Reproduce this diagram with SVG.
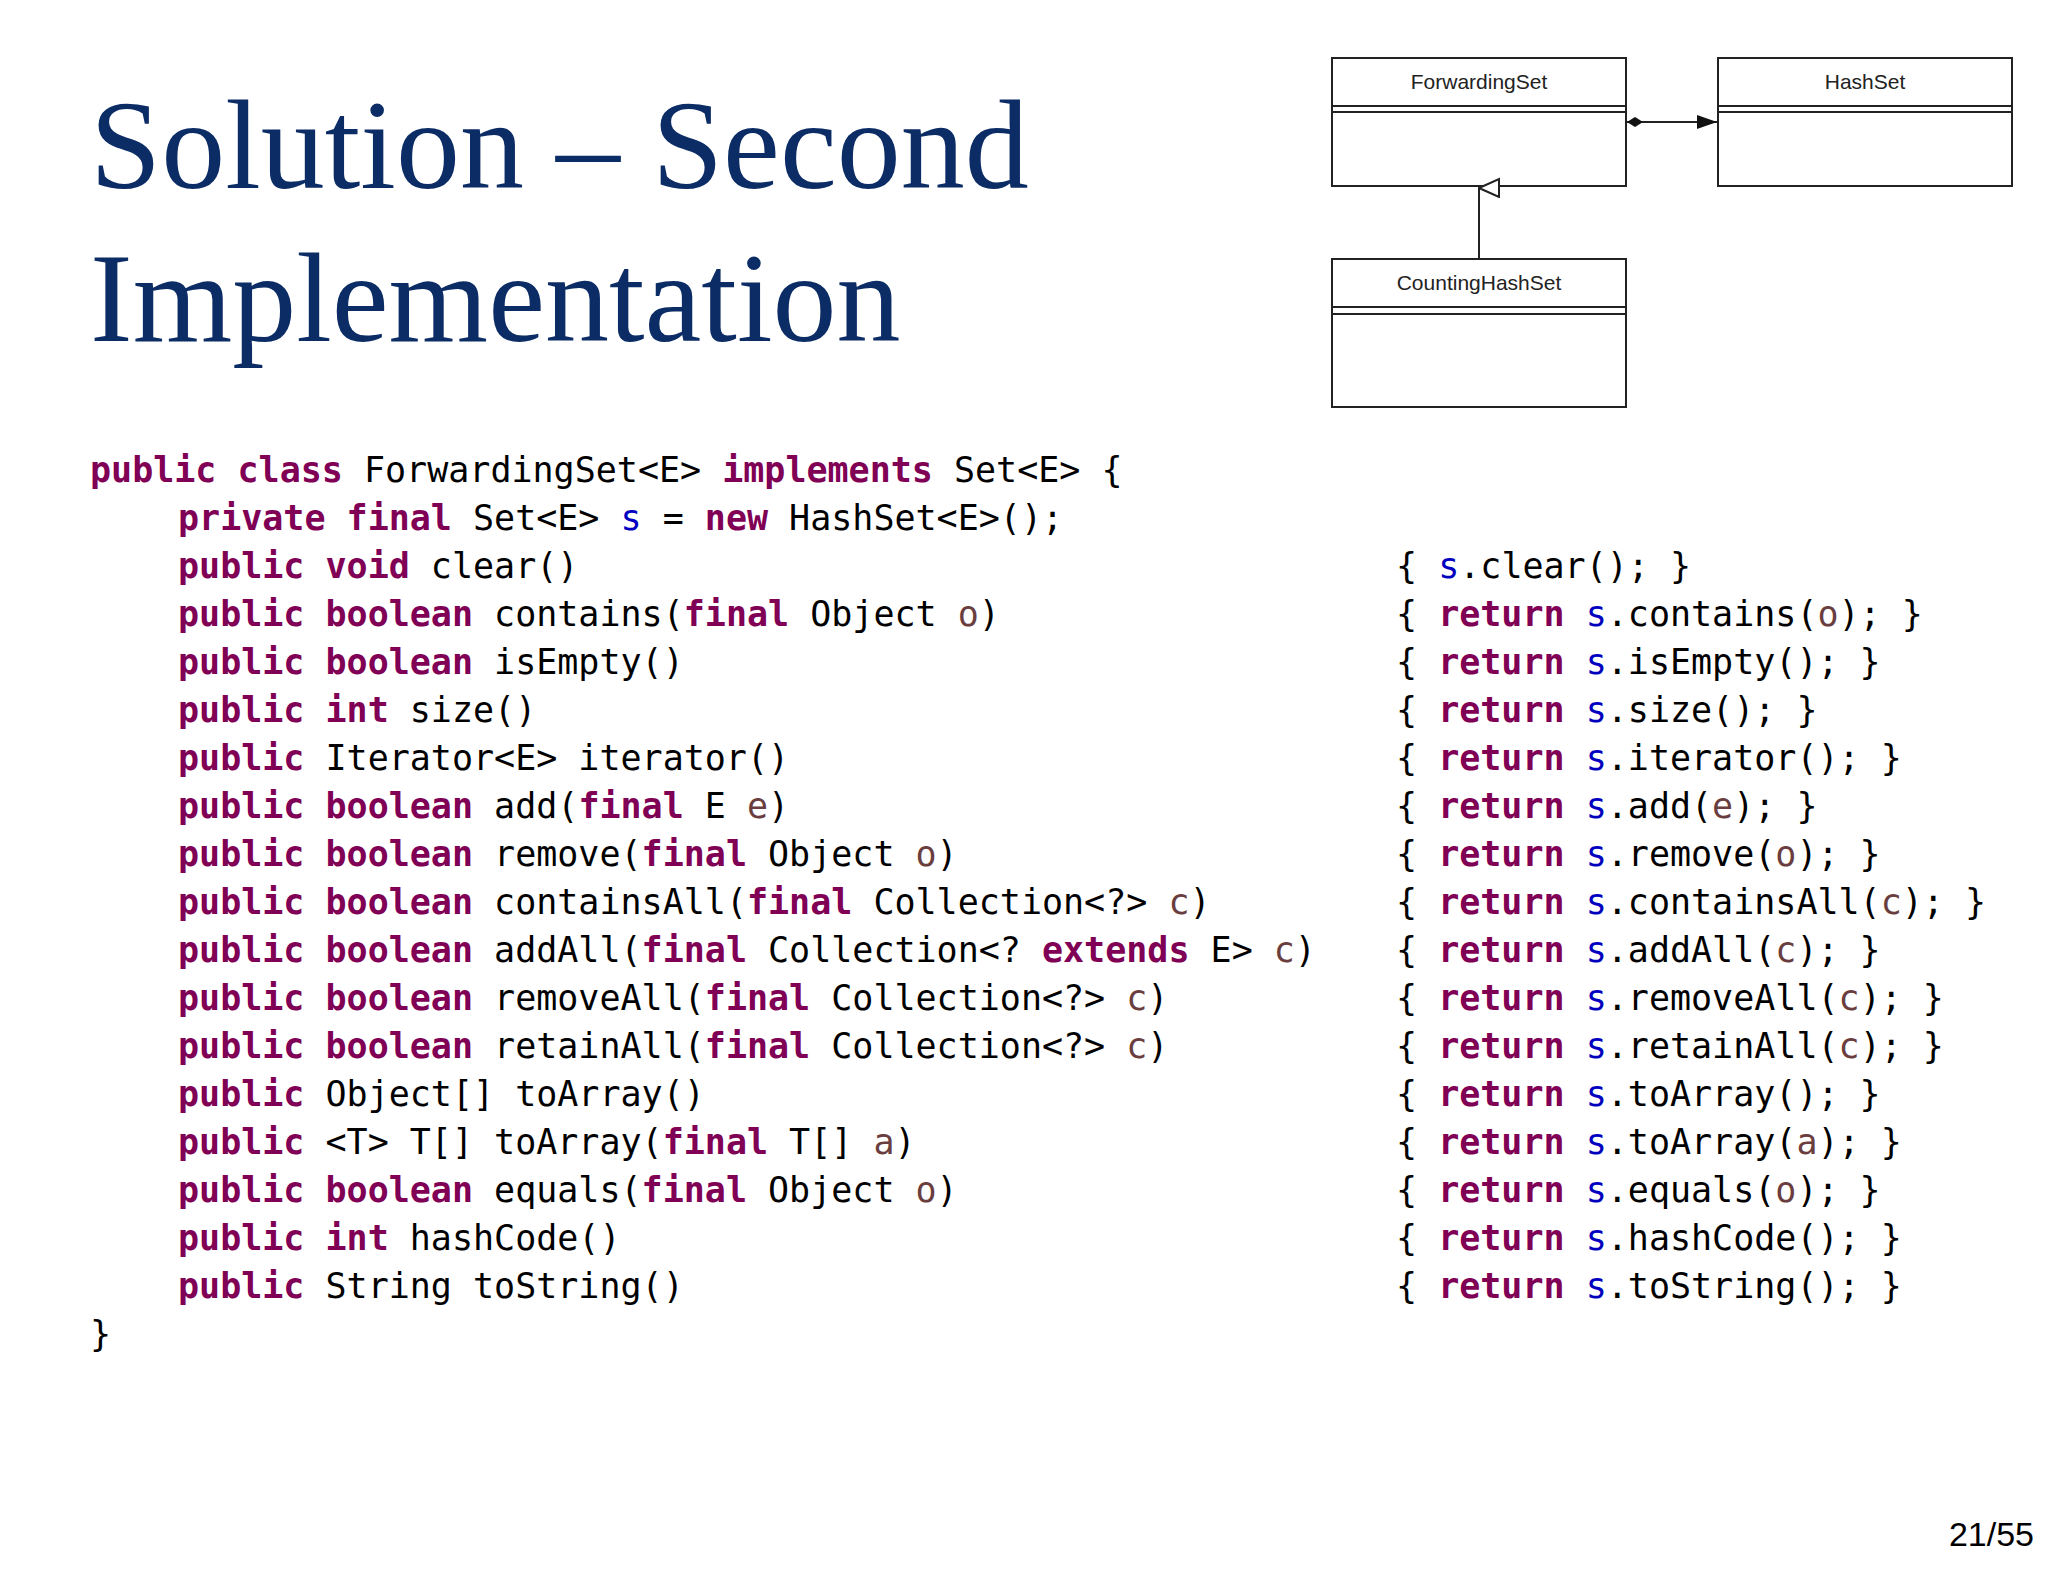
<svg xmlns="http://www.w3.org/2000/svg" width="2048" height="1582" viewBox="0 0 2048 1582">
<style>
.t{font-family:"Liberation Serif","Times New Roman",serif;font-size:128px;fill:#0c2c66}
.c{font-family:"DejaVu Sans Mono","Liberation Mono",monospace;font-size:35px;fill:#000;white-space:pre}
.k{font-weight:bold;fill:#7f0055}
.v{fill:#0000c0}
.p{fill:#6a3e3e}
.box{fill:#fff;stroke:#222;stroke-width:2}
.ln{stroke:#222;stroke-width:2;fill:none}
.lb{font-family:"Liberation Sans",Arial,sans-serif;font-size:21px;fill:#222;text-anchor:middle}
.pg{font-family:"Liberation Sans",Arial,sans-serif;font-size:34px;fill:#000;text-anchor:end}
</style>
<defs>
<marker id="dia" markerWidth="20" markerHeight="12" refX="1" refY="6" orient="auto" markerUnits="userSpaceOnUse"><path d="M1,6 L9,1 L17,6 L9,11 Z" fill="#111"/></marker>
<marker id="arr" markerWidth="22" markerHeight="16" refX="20" refY="8" orient="auto" markerUnits="userSpaceOnUse"><path d="M0,1 L20,8 L0,15 Z" fill="#111"/></marker>
<marker id="tri" markerWidth="22" markerHeight="24" refX="10" refY="1" orient="auto-start-reverse" markerUnits="userSpaceOnUse"><path d="M10,1 L19,21 L1,21 Z" fill="#fff" stroke="#222" stroke-width="2"/></marker>
</defs>
<rect width="2048" height="1582" fill="#fff"/>
<text class="t" x="90" y="188">Solution – Second</text>
<text class="t" x="90" y="341">Implementation</text>
<g id="ForwardingSet"><rect class="box" x="1332" y="58" width="294" height="128"/><line class="ln" x1="1332" y1="106" x2="1626" y2="106"/><line class="ln" x1="1332" y1="112" x2="1626" y2="112"/><text class="lb" x="1479" y="89">ForwardingSet</text></g>
<g id="HashSet"><rect class="box" x="1718" y="58" width="294" height="128"/><line class="ln" x1="1718" y1="106" x2="2012" y2="106"/><line class="ln" x1="1718" y1="112" x2="2012" y2="112"/><text class="lb" x="1865" y="89">HashSet</text></g>
<g id="CountingHashSet"><rect class="box" x="1332" y="259" width="294" height="148"/><line class="ln" x1="1332" y1="307" x2="1626" y2="307"/><line class="ln" x1="1332" y1="314" x2="1626" y2="314"/><text class="lb" x="1479" y="290">CountingHashSet</text></g>
<g id="connectors">
<line class="ln" x1="1627" y1="122" x2="1717" y2="122" marker-start="url(#dia)" marker-end="url(#arr)"/>
<line class="ln" x1="1479" y1="259" x2="1479" y2="188" marker-end="url(#tri)"/>
</g>
<g id="code">
<text class="c" x="90" y="482"><tspan class="k">public class</tspan> ForwardingSet&lt;E&gt; <tspan class="k">implements</tspan> Set&lt;E&gt; {</text>
<text class="c" x="178" y="530"><tspan class="k">private final</tspan> Set&lt;E&gt; <tspan class="v">s</tspan> = <tspan class="k">new</tspan> HashSet&lt;E&gt;();</text>
<text class="c" x="178" y="578"><tspan class="k">public void</tspan> clear()</text>
<text class="c" x="178" y="626"><tspan class="k">public boolean</tspan> contains(<tspan class="k">final</tspan> Object <tspan class="p">o</tspan>)</text>
<text class="c" x="178" y="674"><tspan class="k">public boolean</tspan> isEmpty()</text>
<text class="c" x="178" y="722"><tspan class="k">public int</tspan> size()</text>
<text class="c" x="178" y="770"><tspan class="k">public</tspan> Iterator&lt;E&gt; iterator()</text>
<text class="c" x="178" y="818"><tspan class="k">public boolean</tspan> add(<tspan class="k">final</tspan> E <tspan class="p">e</tspan>)</text>
<text class="c" x="178" y="866"><tspan class="k">public boolean</tspan> remove(<tspan class="k">final</tspan> Object <tspan class="p">o</tspan>)</text>
<text class="c" x="178" y="914"><tspan class="k">public boolean</tspan> containsAll(<tspan class="k">final</tspan> Collection&lt;?&gt; <tspan class="p">c</tspan>)</text>
<text class="c" x="178" y="962"><tspan class="k">public boolean</tspan> addAll(<tspan class="k">final</tspan> Collection&lt;? <tspan class="k">extends</tspan> E&gt; <tspan class="p">c</tspan>)</text>
<text class="c" x="178" y="1010"><tspan class="k">public boolean</tspan> removeAll(<tspan class="k">final</tspan> Collection&lt;?&gt; <tspan class="p">c</tspan>)</text>
<text class="c" x="178" y="1058"><tspan class="k">public boolean</tspan> retainAll(<tspan class="k">final</tspan> Collection&lt;?&gt; <tspan class="p">c</tspan>)</text>
<text class="c" x="178" y="1106"><tspan class="k">public</tspan> Object[] toArray()</text>
<text class="c" x="178" y="1154"><tspan class="k">public</tspan> &lt;T&gt; T[] toArray(<tspan class="k">final</tspan> T[] <tspan class="p">a</tspan>)</text>
<text class="c" x="178" y="1202"><tspan class="k">public boolean</tspan> equals(<tspan class="k">final</tspan> Object <tspan class="p">o</tspan>)</text>
<text class="c" x="178" y="1250"><tspan class="k">public int</tspan> hashCode()</text>
<text class="c" x="178" y="1298"><tspan class="k">public</tspan> String toString()</text>
<text class="c" x="90" y="1346">}</text>
<text class="c" x="1396" y="578">{ <tspan class="v">s</tspan>.clear(); }</text>
<text class="c" x="1396" y="626">{ <tspan class="k">return</tspan> <tspan class="v">s</tspan>.contains(<tspan class="p">o</tspan>); }</text>
<text class="c" x="1396" y="674">{ <tspan class="k">return</tspan> <tspan class="v">s</tspan>.isEmpty(); }</text>
<text class="c" x="1396" y="722">{ <tspan class="k">return</tspan> <tspan class="v">s</tspan>.size(); }</text>
<text class="c" x="1396" y="770">{ <tspan class="k">return</tspan> <tspan class="v">s</tspan>.iterator(); }</text>
<text class="c" x="1396" y="818">{ <tspan class="k">return</tspan> <tspan class="v">s</tspan>.add(<tspan class="p">e</tspan>); }</text>
<text class="c" x="1396" y="866">{ <tspan class="k">return</tspan> <tspan class="v">s</tspan>.remove(<tspan class="p">o</tspan>); }</text>
<text class="c" x="1396" y="914">{ <tspan class="k">return</tspan> <tspan class="v">s</tspan>.containsAll(<tspan class="p">c</tspan>); }</text>
<text class="c" x="1396" y="962">{ <tspan class="k">return</tspan> <tspan class="v">s</tspan>.addAll(<tspan class="p">c</tspan>); }</text>
<text class="c" x="1396" y="1010">{ <tspan class="k">return</tspan> <tspan class="v">s</tspan>.removeAll(<tspan class="p">c</tspan>); }</text>
<text class="c" x="1396" y="1058">{ <tspan class="k">return</tspan> <tspan class="v">s</tspan>.retainAll(<tspan class="p">c</tspan>); }</text>
<text class="c" x="1396" y="1106">{ <tspan class="k">return</tspan> <tspan class="v">s</tspan>.toArray(); }</text>
<text class="c" x="1396" y="1154">{ <tspan class="k">return</tspan> <tspan class="v">s</tspan>.toArray(<tspan class="p">a</tspan>); }</text>
<text class="c" x="1396" y="1202">{ <tspan class="k">return</tspan> <tspan class="v">s</tspan>.equals(<tspan class="p">o</tspan>); }</text>
<text class="c" x="1396" y="1250">{ <tspan class="k">return</tspan> <tspan class="v">s</tspan>.hashCode(); }</text>
<text class="c" x="1396" y="1298">{ <tspan class="k">return</tspan> <tspan class="v">s</tspan>.toString(); }</text>
</g>
<text class="pg" x="2034" y="1546">21/55</text>
</svg>
